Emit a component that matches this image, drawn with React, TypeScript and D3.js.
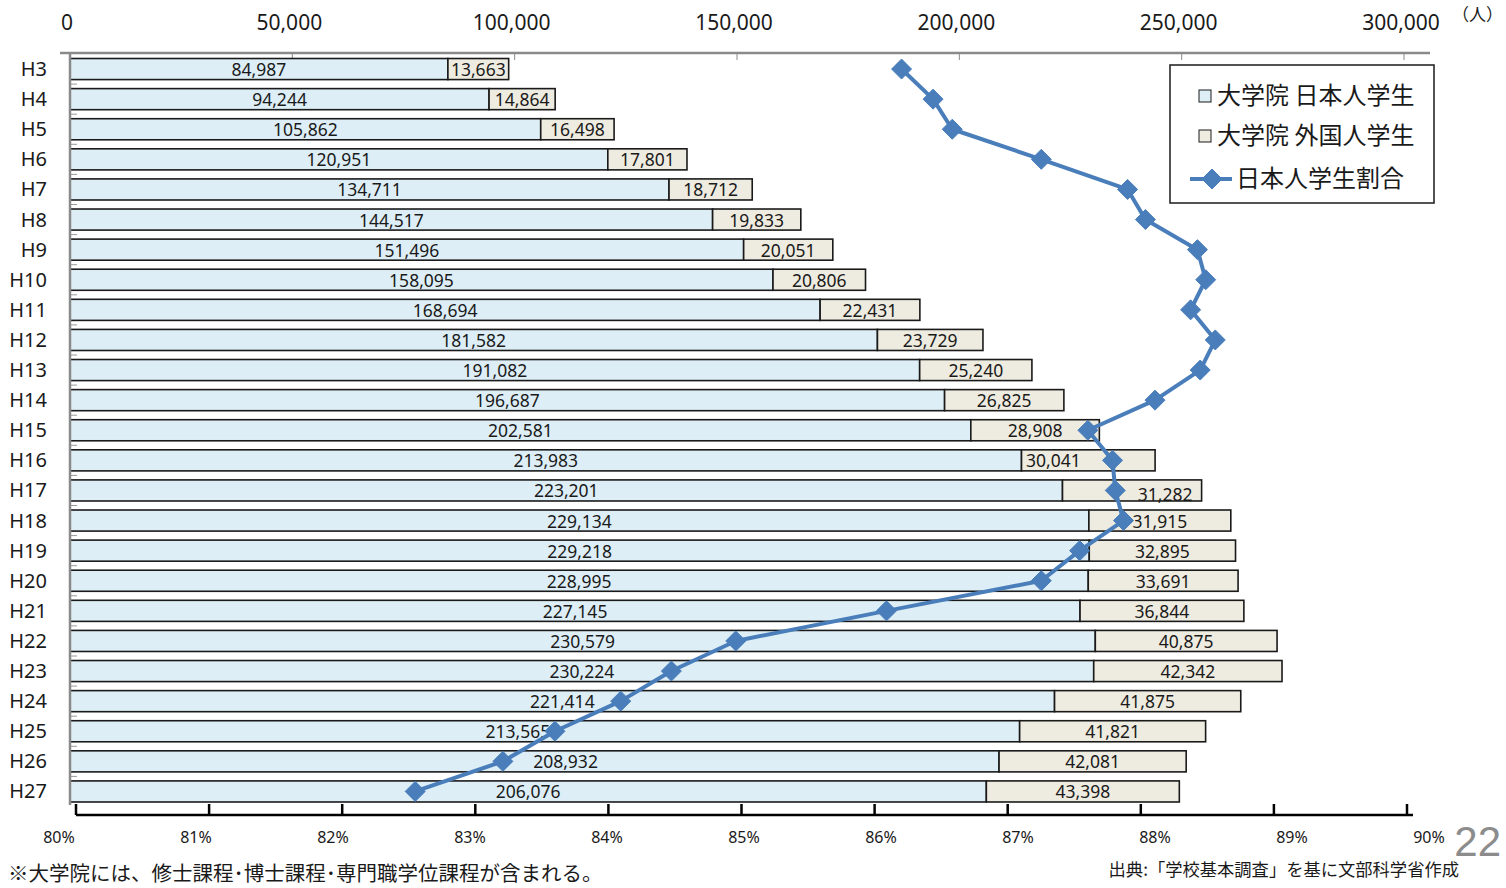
import React from "react";
import * as d3 from "d3";

// Graduate school enrolment by year (Heisei era)
const years = ["H3","H4","H5","H6","H7","H8","H9","H10","H11","H12","H13","H14","H15","H16","H17","H18","H19","H20","H21","H22","H23","H24","H25","H26","H27"];
const japaneseStudents = [84987,94244,105862,120951,134711,144517,151496,158095,168694,181582,191082,196687,202581,213983,223201,229134,229218,228995,227145,230579,230224,221414,213565,208932,206076];
const foreignStudents = [13663,14864,16498,17801,18712,19833,20051,20806,22431,23729,25240,26825,28908,30041,31282,31915,32895,33691,36844,40875,42342,41875,41821,42081,43398];
// Share of Japanese students (%)
const japaneseShare = [86.15,86.38,86.52,87.17,87.80,87.93,88.31,88.37,88.26,88.44,88.33,88.00,87.51,87.69,87.71,87.77,87.45,87.17,86.04,84.94,84.47,84.10,83.62,83.24,82.60];

const countTicks = [0,50000,100000,150000,200000,250000,300000];
const shareTicks = [80,81,82,83,84,85,86,87,88,89,90];

const legendItems = ["大学院 日本人学生", "大学院 外国人学生", "日本人学生割合"];

// nudges for labels that would collide with the line
const jpLabelNudge: Record<string, [number, number]> = { H25: [-27, 0], H26: [31, 0] };
const fgLabelNudge: Record<string, [number, number]> = { H16: [-35, 0], H17: [33, 4] };

const NUM_FONT = "'Noto Sans', 'DejaVu Sans', sans-serif";
const JP_FONT = "'Noto Sans CJK JP', 'Noto Sans', sans-serif";
const JP_FILL = "#DDEEF6";
const FG_FILL = "#EEEBE0";
const LINE = "#4A7EBB";
const INK = "#1a1a1a";

export default function App() {
  const W = 1506, H = 888;
  const x = d3.scaleLinear().domain([0, 300000]).range([70, 1404]);
  const y = d3.scaleBand<string>().domain(years).range([54, 806.5]).paddingInner(0.3).paddingOuter(0.15);
  const pct = d3.scaleLinear().domain([80, 90]).range([59, 1429]);
  const pctTick = d3.scaleLinear().domain([80, 90]).range([76, 1407]);
  const fmt = d3.format(",");
  const bw = y.bandwidth();
  const cy = (c: string) => (y(c) as number) + bw / 2;

  const linePath = d3.line<number>()
    .x((d) => pct(d))
    .y((_, i) => cy(years[i]))(japaneseShare) as string;

  const diamond = (cx: number, cyv: number, r: number) =>
    `M${cx},${cyv - r}L${cx + r},${cyv}L${cx},${cyv + r}L${cx - r},${cyv}Z`;

  const rowEdges = years.slice(0, -1).map((c) => (y(c) as number) + bw + (y.step() - bw) / 2);

  return (
    <svg width={W} height={H} style={{ position: "absolute", left: 0, top: 0, background: "#fff" }}>
      {/* top count axis */}
      <line x1={60} x2={1430} y1={53} y2={53} stroke="#8a8a8a" strokeWidth={2.5} />
      {countTicks.slice(1).map((t) => (
        <line key={"ct" + t} x1={x(t)} x2={x(t)} y1={53} y2={60} stroke="#8a8a8a" strokeWidth={1} />
      ))}
      {countTicks.map((t) => (
        <text key={"cl" + t} x={x(t) - 3} y={30} textAnchor="middle" fontFamily={NUM_FONT} fontSize={21} fill={INK}>
          {fmt(t)}
        </text>
      ))}
      <text x={1503} y={21} textAnchor="end" fontFamily={JP_FONT} fontSize={17} fill={INK}>（人）</text>

      {/* bars */}
      {years.map((c, i) => {
        const y0 = y(c) as number;
        const xj = x(japaneseStudents[i]);
        const xt = x(japaneseStudents[i] + foreignStudents[i]);
        return (
          <g key={"b" + c}>
            <rect x={x(0)} y={y0} width={xj - x(0)} height={bw} fill={JP_FILL} stroke={INK} strokeWidth={1.6} />
            <rect x={xj} y={y0} width={xt - xj} height={bw} fill={FG_FILL} stroke={INK} strokeWidth={1.6} />
          </g>
        );
      })}

      {/* left category axis */}
      <line x1={70} x2={70} y1={53} y2={805} stroke="#8a8a8a" strokeWidth={2.5} />
      {rowEdges.map((e, i) => (
        <line key={"rt" + i} x1={71} x2={77} y1={e} y2={e} stroke="#9a9a9a" strokeWidth={1} />
      ))}
      {years.map((c) => (
        <text key={"yl" + c} x={47} y={cy(c) + 7} textAnchor="end" fontFamily={NUM_FONT} fontSize={20} fill={INK}>
          {c}
        </text>
      ))}

      {/* value labels */}
      {years.map((c, i) => {
        const xj = x(japaneseStudents[i]);
        const xt = x(japaneseStudents[i] + foreignStudents[i]);
        const nj = jpLabelNudge[c] || [0, 0];
        const nf = fgLabelNudge[c] || [0, 0];
        return (
          <g key={"vl" + c} fontFamily={NUM_FONT} fontSize={17.5} fill={INK} textAnchor="middle">
            <text x={(x(0) + xj) / 2 + nj[0]} y={cy(c) + 7 + nj[1]}>{fmt(japaneseStudents[i])}</text>
            <text x={(xj + xt) / 2 + nf[0]} y={cy(c) + 7 + nf[1]}>{fmt(foreignStudents[i])}</text>
          </g>
        );
      })}

      {/* share line */}
      <path d={linePath} fill="none" stroke={LINE} strokeWidth={4} strokeLinejoin="round" />
      {japaneseShare.map((v, i) => (
        <path key={"m" + i} d={diamond(pct(v), cy(years[i]), 10)} fill={LINE} stroke={LINE} strokeWidth={1} strokeLinejoin="round" />
      ))}

      {/* bottom share axis */}
      <line x1={76} x2={1413} y1={815} y2={815} stroke="#000" strokeWidth={2.5} />
      {shareTicks.map((t) => (
        <line key={"st" + t} x1={pctTick(t)} x2={pctTick(t)} y1={804} y2={815} stroke="#000" strokeWidth={2.5} />
      ))}
      {shareTicks.map((t) => (
        <text key={"sl" + t} x={pct(t)} y={843} textAnchor="middle" fontFamily={NUM_FONT} fontSize={16} fill={INK}>
          {t + "%"}
        </text>
      ))}

      {/* legend */}
      <rect x={1170} y={65} width={264} height={138} fill="#fff" stroke={INK} strokeWidth={1.5} />
      <rect x={1199} y={90} width={12} height={12} fill={JP_FILL} stroke={INK} strokeWidth={1} />
      <text x={1217} y={104} fontFamily={JP_FONT} fontSize={24} fill={INK}>{legendItems[0]}</text>
      <rect x={1199} y={130} width={12} height={12} fill={FG_FILL} stroke={INK} strokeWidth={1} />
      <text x={1217} y={144} fontFamily={JP_FONT} fontSize={24} fill={INK}>{legendItems[1]}</text>
      <line x1={1190} x2={1232} y1={179} y2={179} stroke={LINE} strokeWidth={4} />
      <path d={diamond(1212, 179, 10)} fill={LINE} stroke={LINE} strokeWidth={1} />
      <text x={1236} y={187} fontFamily={JP_FONT} fontSize={24} fill={INK}>{legendItems[2]}</text>

      {/* notes */}
      <text x={8} y={881} fontFamily={JP_FONT} fontSize={20.5} fill={INK}>※大学院には、修士課程･博士課程･専門職学位課程が含まれる。</text>
      <text x={1459} y={876} textAnchor="end" fontFamily={JP_FONT} fontSize={17.3} fill={INK}>出典:「学校基本調査」を基に文部科学省作成</text>
      <text x={1501} y={856} textAnchor="end" fontFamily="'Liberation Sans', Arial, sans-serif" fontSize={42} fill="#8c8c8c">22</text>
    </svg>
  );
}
